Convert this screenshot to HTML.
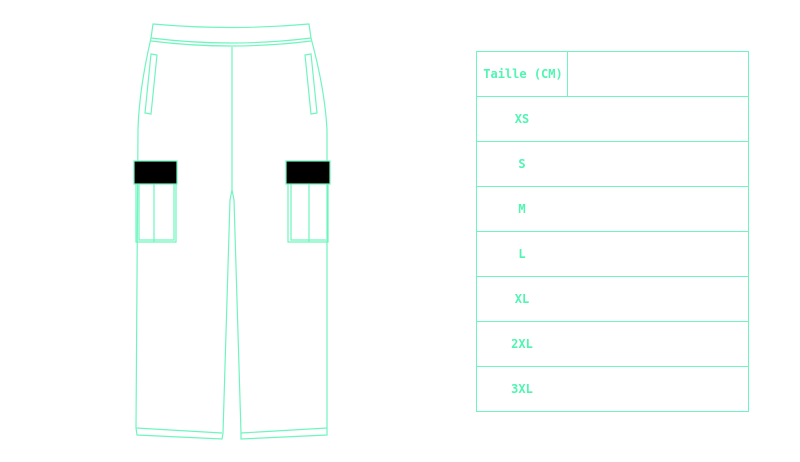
<!DOCTYPE html>
<html><head><style>
body{margin:0;background:#fff;width:800px;height:462px;overflow:hidden;position:relative;font-family:"DejaVu Sans Mono","Liberation Mono",monospace}
.t{position:absolute;left:476px;top:51px;width:273px;border:1.5px solid #6ff5bf;box-sizing:border-box}
.r{height:45px;border-bottom:1.5px solid #6ff5bf;box-sizing:border-box;position:relative;color:#4ff5b0;font-weight:bold;font-size:12px}
.r:last-child{border-bottom:none;height:44px}
.r span{position:absolute;top:15px;left:0;width:90px;text-align:center}
</style></head><body>
<svg width="800" height="462" style="position:absolute;left:0;top:0" fill="none" stroke="#6ff5bf" stroke-width="1.2">
<path d="M153,24 Q231,31 309,24 L311,38 Q231,48 151,38 Z"/>
<path d="M151,41 Q231,51 311,41"/>
<path d="M151,38 Q139,90 138,130 L136,428 L137,435 L222,439 L223,433 L230,200 L232,190 L234,200 L241,433 L241,439 L327,435 L327,428 L327,130 Q325,90 311,38"/>
<path d="M232,47 L232,190"/>
<path d="M136,428 L222,433 M241,433 L327,428"/>
<path d="M151,54 L157,55 L151,114 L145,113 Z"/>
<path d="M305,55 L311,54 L317,113 L311,114 Z"/>
<rect x="134" y="161" width="43" height="23" fill="#000"/>
<rect x="286" y="161" width="44" height="23" fill="#000"/>
<path d="M136,184 L136,242 L176,242 L176,184 M139,184 L139,240 L174,240 L174,184 M154,184 L154,242"/>
<path d="M288,184 L288,242 L328,242 L328,184 M291,184 L291,240 L326,240 M309,184 L309,242"/>
</svg>
<div class="t">
<div class="r"><div style="position:absolute;left:90px;top:0;bottom:0;border-left:1.5px solid #6ff5bf"></div><span style="left:2px;width:88px">Taille (CM)</span></div>
<div class="r"><span>XS</span></div>
<div class="r"><span>S</span></div>
<div class="r"><span>M</span></div>
<div class="r"><span>L</span></div>
<div class="r"><span>XL</span></div>
<div class="r"><span>2XL</span></div>
<div class="r"><span>3XL</span></div>
</div>
</body></html>
